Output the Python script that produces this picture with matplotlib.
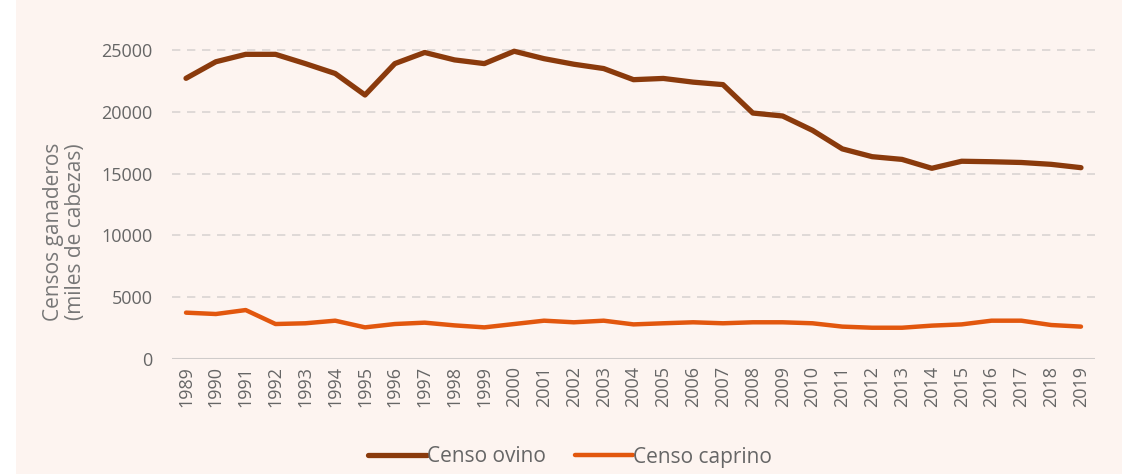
import numpy as np
import matplotlib.pyplot as plt
from matplotlib.patches import Rectangle

plt.rcParams['font.family'] = ['Open Sans', 'DejaVu Sans']

years = list(range(1989, 2020))
ovino = [22710, 24050, 24650, 24650, 23900, 23100, 21360, 23900, 24800, 24200,
         23900, 24900, 24300, 23850, 23500, 22600, 22700, 22400, 22200, 19900,
         19660, 18500, 17000, 16370, 16150, 15430, 16000, 15960, 15900, 15750,
         15480]
caprino = [3750, 3640, 3960, 2830, 2890, 3100, 2560, 2830, 2940, 2720,
           2560, 2830, 3100, 2970, 3100, 2800, 2890, 2970, 2890, 2970,
           2970, 2890, 2620, 2530, 2530, 2700, 2800, 3100, 3100, 2750,
           2620]
yticks = [0, 5000, 10000, 15000, 20000, 25000]

bg = '#fdf4f0'
fig = plt.figure(figsize=(11.22, 4.74), dpi=100, facecolor='white')
fig.patches.append(Rectangle((16 / 1122, 0), 1, 1, transform=fig.transFigure,
                             facecolor=bg, edgecolor='none', zorder=-10))

ax = fig.add_axes([172 / 1122, 1 - 359 / 474, (1095 - 172) / 1122, (359 - 40) / 474])
ax.set_facecolor(bg)

ax.plot(years, ovino, color='#8a3a0c', lw=3.8, solid_capstyle='round',
        solid_joinstyle='round', label='Censo ovino', zorder=3)
ax.plot(years, caprino, color='#e2570e', lw=3.2, solid_capstyle='round',
        solid_joinstyle='round', label='Censo caprino', zorder=3)

ax.set_xlim(1988.53, 2019.47)
ax.set_ylim(0, 25810)
ax.set_yticks(yticks)
ax.set_yticklabels([str(v) for v in yticks])
ax.set_xticks(years)
ax.set_xticklabels([str(y) for y in years], rotation=90)

for v in yticks[1:]:
    ax.axhline(v, color='#d9d4d2', lw=1.2, ls=(0, (5, 4)), zorder=1)
ax.axhline(0, color='#cfcbca', lw=2.2, zorder=2)

for s in ax.spines.values():
    s.set_visible(False)
ax.tick_params(axis='both', length=0, colors='#666666', labelsize=13)
ax.tick_params(axis='y', pad=14)
ax.tick_params(axis='x', pad=5)

ax.set_ylabel('Censos ganaderos\n(miles de cabezas)', color='#777777', fontsize=15,
              linespacing=1.05)
ax.yaxis.set_label_coords(-0.093, 0.398)

fig.legend(loc='center', bbox_to_anchor=(0.508, 1 - 457 / 474), ncol=2, frameon=False,
           fontsize=15, labelcolor='#666666', handlelength=2.8, handletextpad=0.0,
           columnspacing=1.4)

fig.savefig('out.png', dpi=100, facecolor=fig.get_facecolor())
